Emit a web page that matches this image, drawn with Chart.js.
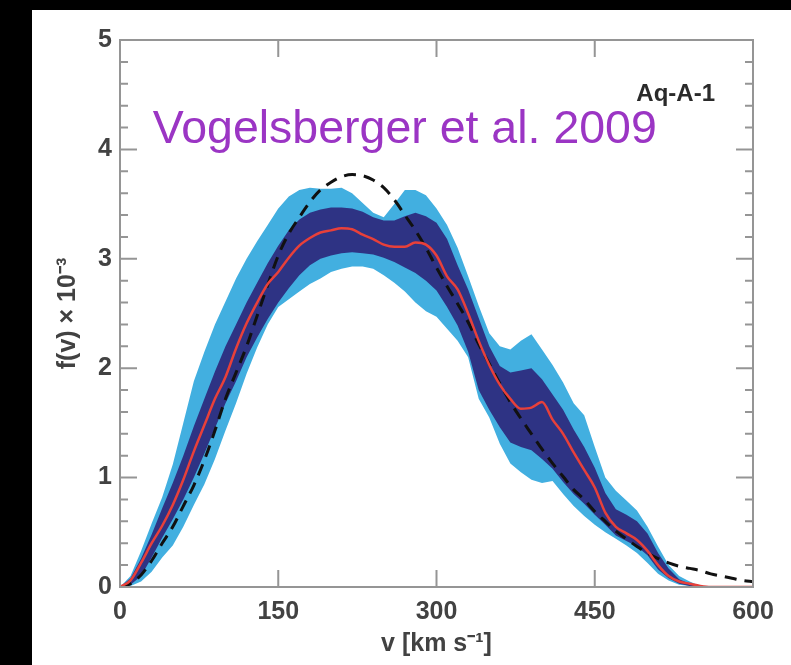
<!DOCTYPE html>
<html>
<head>
<meta charset="utf-8">
<script src="https://cdn.jsdelivr.net/npm/chart.js@4.4.1/dist/chart.umd.min.js"></script>
<style>
  html, body { margin: 0; background: #000; overflow: hidden; }
  #panel { position: absolute; left: 32px; top: 10px; width: 759px; height: 655px; background: #fff; }
</style>
</head>
<body>
<div id="panel"><canvas id="chart"></canvas></div>
<script>
// velocity grid, km/s
const velocity = [0,10,20,30,40,50,60,70,80,90,100,110,120,130,140,150,160,170,180,190,200,
  210,220,230,240,250,260,270,280,290,300,310,320,330,340,350,360,370,380,390,400,
  410,420,430,440,450,460,470,480,490,500,510,520,530,540,550,560,570,580,590,600];

// median f(v) x 1e-3 (red)
const median = [0,0.06,0.22,0.40,0.56,0.75,0.98,1.24,1.48,1.72, 1.92,2.18,2.41,2.60,2.77,2.88,3.01,3.12,3.19,3.24,
  3.26,3.28,3.27,3.22,3.18,3.13,3.11,3.11,3.15,3.13, 3.03,2.84,2.72,2.50,2.25,2.03,1.85,1.72,1.63,1.64,
  1.69,1.53,1.40,1.23,1.07,0.91,0.68,0.55,0.49,0.43, 0.33,0.20,0.10,0.05,0.03,0.01,0,0,0,0,0];

// Maxwellian (dashed)
const maxwellian = [0,0.03,0.11,0.24,0.40,0.55,0.74,0.93,1.16,1.43, 1.72,1.96,2.20,2.48,2.76,3.03,3.23,3.38,3.52,3.63,
  3.70,3.75,3.77,3.76,3.72,3.65,3.54,3.40,3.26,3.10, 2.92,2.75,2.59,2.42,2.22,2.04,1.86,1.69,1.54,1.40,
  1.26,1.13,1.01,0.89,0.80,0.69,0.60,0.51,0.44,0.37, 0.31,0.26,0.22,0.19,0.17,0.15,0.12,0.10,0.08,0.06,0.05];

// inner band (dark)
const innerHigh = [0,0.08,0.26,0.48,0.72,0.95,1.20,1.47,1.72,1.97, 2.20,2.40,2.60,2.78,2.96,3.12,3.26,3.36,3.42,3.45,
  3.47,3.47,3.46,3.43,3.38,3.35,3.35,3.39,3.42,3.39, 3.33,3.18,2.94,2.72,2.46,2.20,2.02,1.96,1.98,2.00,
  1.90,1.76,1.62,1.44,1.28,1.09,0.86,0.71,0.66,0.60, 0.49,0.31,0.17,0.07,0.03,0.01,0,0,0,0,0];
const innerLow = [0,0.02,0.10,0.27,0.45,0.62,0.80,1.00,1.22,1.45, 1.68,1.88,2.10,2.28,2.45,2.60,2.73,2.85,2.94,3.00,
  3.03,3.05,3.06,3.05,3.04,3.01,2.97,2.92,2.87,2.80, 2.71,2.56,2.39,2.15,1.80,1.62,1.46,1.32,1.28,1.25,
  1.17,1.08,0.96,0.85,0.76,0.66,0.57,0.47,0.42,0.37, 0.29,0.16,0.08,0.03,0.01,0.005,0,0,0,0,0];

// outer band (light)
const outerHigh = [0,0.10,0.33,0.58,0.82,1.12,1.50,1.88,2.15,2.40, 2.61,2.82,3.00,3.16,3.31,3.46,3.57,3.63,3.65,3.64,
  3.64,3.65,3.60,3.51,3.42,3.38,3.50,3.63,3.63,3.58, 3.46,3.31,3.10,2.84,2.57,2.32,2.20,2.17,2.25,2.31,
  2.17,2.03,1.87,1.68,1.57,1.28,1.00,0.88,0.79,0.70, 0.55,0.37,0.20,0.10,0.05,0.01,0,0,0,0,0];
const outerLow = [0,0.01,0.05,0.14,0.27,0.38,0.55,0.75,0.94,1.17, 1.43,1.68,1.95,2.19,2.40,2.56,2.63,2.70,2.77,2.82,
  2.88,2.91,2.93,2.93,2.91,2.85,2.78,2.70,2.60,2.52, 2.47,2.36,2.25,2.10,1.72,1.55,1.31,1.13,1.05,0.98,
  0.95,0.97,0.85,0.74,0.65,0.57,0.50,0.44,0.38,0.31, 0.22,0.12,0.06,0.02,0.01,0.005,0,0,0,0,0];

const xTickStep = 150;
const yTickStep = 0.2;

const FONT = '"Liberation Sans", Arial, sans-serif';
const TEXT = '#424242';
const pts = arr => arr.map((f, i) => ({ x: velocity[i], y: f }));
const isMajor = v => Math.abs(v - Math.round(v)) < 1e-6;

const frameTicks = {
    id: 'frameTicks',
    afterDraw(chart) {
        const { ctx, chartArea: a, scales: { x, y } } = chart;
        ctx.save();
        ctx.strokeStyle = '#959595';
        ctx.lineWidth = 2;
        ctx.strokeRect(a.left, a.top, a.right - a.left, a.bottom - a.top);
        ctx.beginPath();
        x.ticks.forEach(t => {
            if (t.value <= x.min || t.value >= x.max) return;
            const px = x.getPixelForValue(t.value);
            ctx.moveTo(px, a.bottom); ctx.lineTo(px, a.bottom - 17);
            ctx.moveTo(px, a.top); ctx.lineTo(px, a.top + 17);
        });
        y.ticks.forEach(t => {
            const py = y.getPixelForValue(t.value);
            const len = isMajor(t.value) ? 17 : 8;
            ctx.moveTo(a.left, py); ctx.lineTo(a.left + len, py);
            ctx.moveTo(a.right, py); ctx.lineTo(a.right - len, py);
        });
        ctx.stroke();

        // labels inside the panel
        ctx.fillStyle = '#2a2a2a';
        ctx.font = 'bold 24px ' + FONT;
        ctx.textAlign = 'right';
        ctx.textBaseline = 'alphabetic';
        ctx.fillText('Aq-A-1', x.getPixelForValue(564), y.getPixelForValue(4.44));

        ctx.fillStyle = '#9b35c4';
        ctx.font = '46.5px ' + FONT;
        ctx.textAlign = 'left';
        ctx.fillText('Vogelsberger et al. 2009', x.getPixelForValue(31), y.getPixelForValue(4.06));
        ctx.restore();
    }
};

new Chart(document.getElementById('chart'), {
    type: 'line',
    data: {
        datasets: [
            { label: 'median', data: pts(median), borderColor: '#e8403a', borderWidth: 2.5,
              cubicInterpolationMode: 'monotone', fill: false, order: 0 },
            { label: 'Maxwellian', data: pts(maxwellian), borderColor: '#111', borderWidth: 3,
              borderDash: [12, 8], cubicInterpolationMode: 'monotone', fill: false, order: 1 },
            { label: 'inner high', data: pts(innerHigh), borderWidth: 0, borderColor: 'rgba(0,0,0,0)',
              backgroundColor: '#2e3384', fill: 3, order: 2 },
            { label: 'inner low', data: pts(innerLow), borderWidth: 0, borderColor: 'rgba(0,0,0,0)',
              fill: false, order: 3 },
            { label: 'outer high', data: pts(outerHigh), borderWidth: 0, borderColor: 'rgba(0,0,0,0)',
              backgroundColor: '#42afe0', fill: 5, order: 4 },
            { label: 'outer low', data: pts(outerLow), borderWidth: 0, borderColor: 'rgba(0,0,0,0)',
              fill: false, order: 5 }
        ]
    },
    options: {
        responsive: true,
        maintainAspectRatio: false,
        animation: false,
        layout: { padding: { top: 30, right: 38, left: 0, bottom: 0 } },
        elements: { point: { radius: 0 } },
        plugins: { legend: { display: false }, tooltip: { enabled: false } },
        scales: {
            x: {
                type: 'linear', min: 0, max: 600,
                grid: { display: false, drawTicks: false },
                border: { display: false },
                ticks: { stepSize: xTickStep, padding: 10, color: TEXT, maxRotation: 0, autoSkip: false,
                         font: { family: FONT, size: 25, weight: 'bold' } },
                title: { display: true, text: 'v [km s⁻¹]', color: TEXT,
                         font: { family: FONT, size: 25, weight: 'bold' }, padding: { top: 0, bottom: 6 } },
                afterFit: s => { s.height = 78; }
            },
            y: {
                min: 0, max: 5,
                grid: { display: false, drawTicks: false },
                border: { display: false },
                ticks: { stepSize: yTickStep, padding: 8, color: TEXT, autoSkip: false,
                         font: { family: FONT, size: 25, weight: 'bold' },
                         callback: v => isMajor(v) ? String(Math.round(v)) : '' },
                title: { display: true, text: 'f(v) × 10⁻³', color: TEXT,
                         font: { family: FONT, size: 25, weight: 'bold' }, padding: { top: 21, bottom: 0 } },
                afterFit: s => { s.width = 88; }
            }
        }
    },
    plugins: [frameTicks]
});
</script>
</body>
</html>
